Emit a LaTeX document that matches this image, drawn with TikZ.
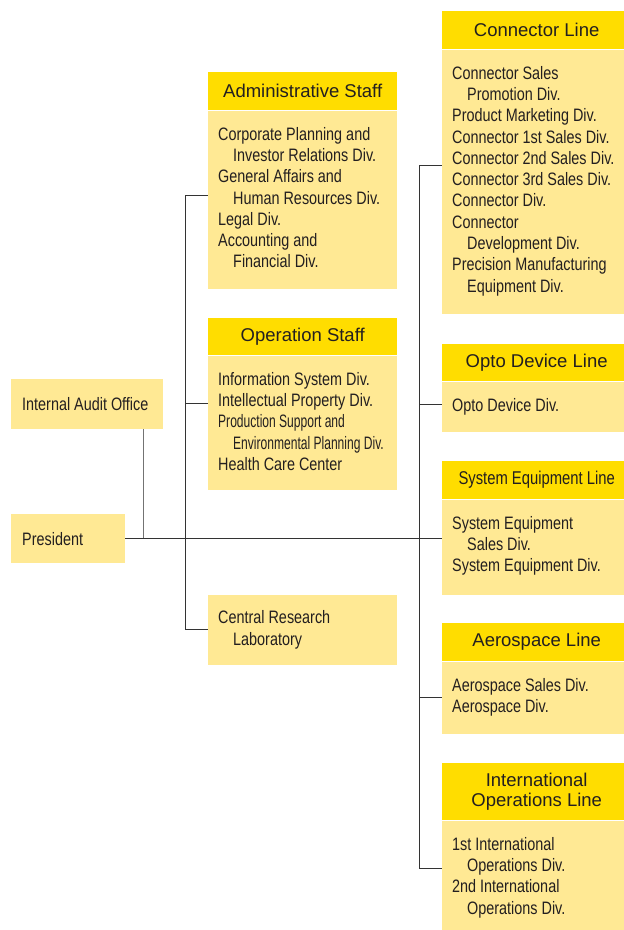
\documentclass[tikz,border=0pt]{standalone}
\usepackage{fontspec}
\setmainfont{Liberation Sans}
\newfontfamily\narrowfont{Liberation Sans}[FakeStretch=0.80]
\newfontfamily\narrowerfont{Liberation Sans}[FakeStretch=0.67]
\usetikzlibrary{positioning}

\definecolor{headyellow}{HTML}{FFDD00}
\definecolor{paleyellow}{HTML}{FFE994}
\definecolor{inkgray}{HTML}{231F20}

\tikzset{
  head/.style={fill=headyellow, inner sep=0, anchor=north west, align=center,
    text=inkgray, font=\fontsize{18.5}{20}\selectfont},
  body/.style={fill=paleyellow, inner sep=0, anchor=north west},
  btext/.style={inner sep=0, anchor=north west, align=left, text=inkgray,
    font=\narrowfont\fontsize{18}{21.3}\selectfont},
  link/.style={draw=black!80, line width=0.9pt}
}
\newcommand{\subind}{\hspace*{15pt}}

\begin{document}
\begin{tikzpicture}[x=1pt,y=-1pt]
\useasboundingbox (0,0) rectangle (624,930);
\def\xs{208}
\def\xl{442}
\def\ws{189}
\def\wl{189}

% president and audit office
\node[body, minimum width=152, minimum height=50] (aud) at (11,379) {};
\node[btext, anchor=west] (audt) at ([xshift=11]aud.west) {Internal Audit Office};
\node[body, minimum width=114, minimum height=49] (pres) at (11,514) {};
\node[btext, anchor=west] (prest) at ([xshift=11]pres.west) {President};

% staff column
\node[head, minimum width=\ws, minimum height=38] (ah) at (\xs,72) {Administrative Staff};
\node[body, minimum width=\ws, minimum height=178] (ab) at (ah.south west) {};
\node[btext] (abt) at ([shift={(10,16.5)}]ab.north west)
  {Corporate Planning and\\ \subind Investor Relations Div.\\ General Affairs and\\
   \subind Human Resources Div.\\ Legal Div.\\ Accounting and\\ \subind Financial Div.};

\node[head, minimum width=\ws, minimum height=37] (oh) at (\xs,318) {Operation Staff};
\node[body, minimum width=\ws, minimum height=134] (ob) at (oh.south west) {};
\node[btext] (obt) at ([shift={(10,16.5)}]ob.north west)
  {Information System Div.\\ Intellectual Property Div.\\
   {\narrowerfont Production Support and}\\
   {\narrowerfont\subind Environmental Planning Div.}\\ Health Care Center};

\node[body, minimum width=\ws, minimum height=70] (crl) at (\xs,595) {};
\node[btext] (crlt) at ([shift={(10,15.5)}]crl.north west)
  {Central Research\\ \subind Laboratory};

% business lines (boxes run past the right edge)
\node[head, minimum width=\wl, minimum height=38] (ch) at (\xl,11) {Connector Line};
\node[body, minimum width=\wl, minimum height=264] (cb) at (ch.south west) {};
\node[btext] (cbt) at ([shift={(10,16.5)}]cb.north west)
  {Connector Sales\\ \subind Promotion Div.\\ Product Marketing Div.\\
   Connector 1st Sales Div.\\ Connector 2nd Sales Div.\\ Connector 3rd Sales Div.\\
   Connector Div.\\ Connector\\ \subind Development Div.\\
   Precision Manufacturing\\ \subind Equipment Div.};

\node[head, minimum width=\wl, minimum height=37] (odh) at (\xl,344) {Opto Device Line};
\node[body, minimum width=\wl, minimum height=50] (odb) at (odh.south west) {};
\node[btext] (odbt) at ([shift={(10,16.5)}]odb.north west) {Opto Device Div.};

\node[head, minimum width=\wl, minimum height=38, font=\narrowfont\fontsize{18.5}{20}\selectfont]
  (seh) at (\xl,461) {System Equipment Line};
\node[body, minimum width=\wl, minimum height=95] (seb) at (seh.south west) {};
\node[btext] (sebt) at ([shift={(10,16.5)}]seb.north west)
  {System Equipment\\ \subind Sales Div.\\ System Equipment Div.};

\node[head, minimum width=\wl, minimum height=38] (aeh) at (\xl,623) {Aerospace Line};
\node[body, minimum width=\wl, minimum height=72] (aeb) at (aeh.south west) {};
\node[btext] (aebt) at ([shift={(10,16.5)}]aeb.north west)
  {Aerospace Sales Div.\\ Aerospace Div.};

\node[head, minimum width=\wl, minimum height=57] (ioh) at (\xl,763)
  {International\\ Operations Line};
\node[body, minimum width=\wl, minimum height=110] (iob) at (ioh.south west) {};
\node[btext] (iobt) at ([shift={(10,16.5)}]iob.north west)
  {1st International\\ \subind Operations Div.\\ 2nd International\\ \subind Operations Div.};

% connectors
\coordinate (ja) at (143,538);
\coordinate (sa) at (185,195);
\coordinate (sb) at (185,403);
\coordinate (sc) at (185,629);
\coordinate (la) at (419,165);
\coordinate (lb) at (419,404);
\coordinate (ld) at (419,697);
\coordinate (le) at (419,868);

\draw[link] (pres.east) -- (pres.east -| seb.west);
\draw[link, draw=black!55] (aud.south -| ja) -- (ja);
\draw[link] (sa) -- (sc);
\draw[link] (sa) -- (sa -| ab.west);
\draw[link] (sb) -- (sb -| ob.west);
\draw[link] (sc) -- (sc -| crl.west);
\draw[link] (la) -- (le);
\draw[link] (la) -- (la -| cb.west);
\draw[link] (lb) -- (lb -| odb.west);
\draw[link] (ld) -- (ld -| aeb.west);
\draw[link] (le) -- (le -| iob.west);
\end{tikzpicture}
\end{document}
